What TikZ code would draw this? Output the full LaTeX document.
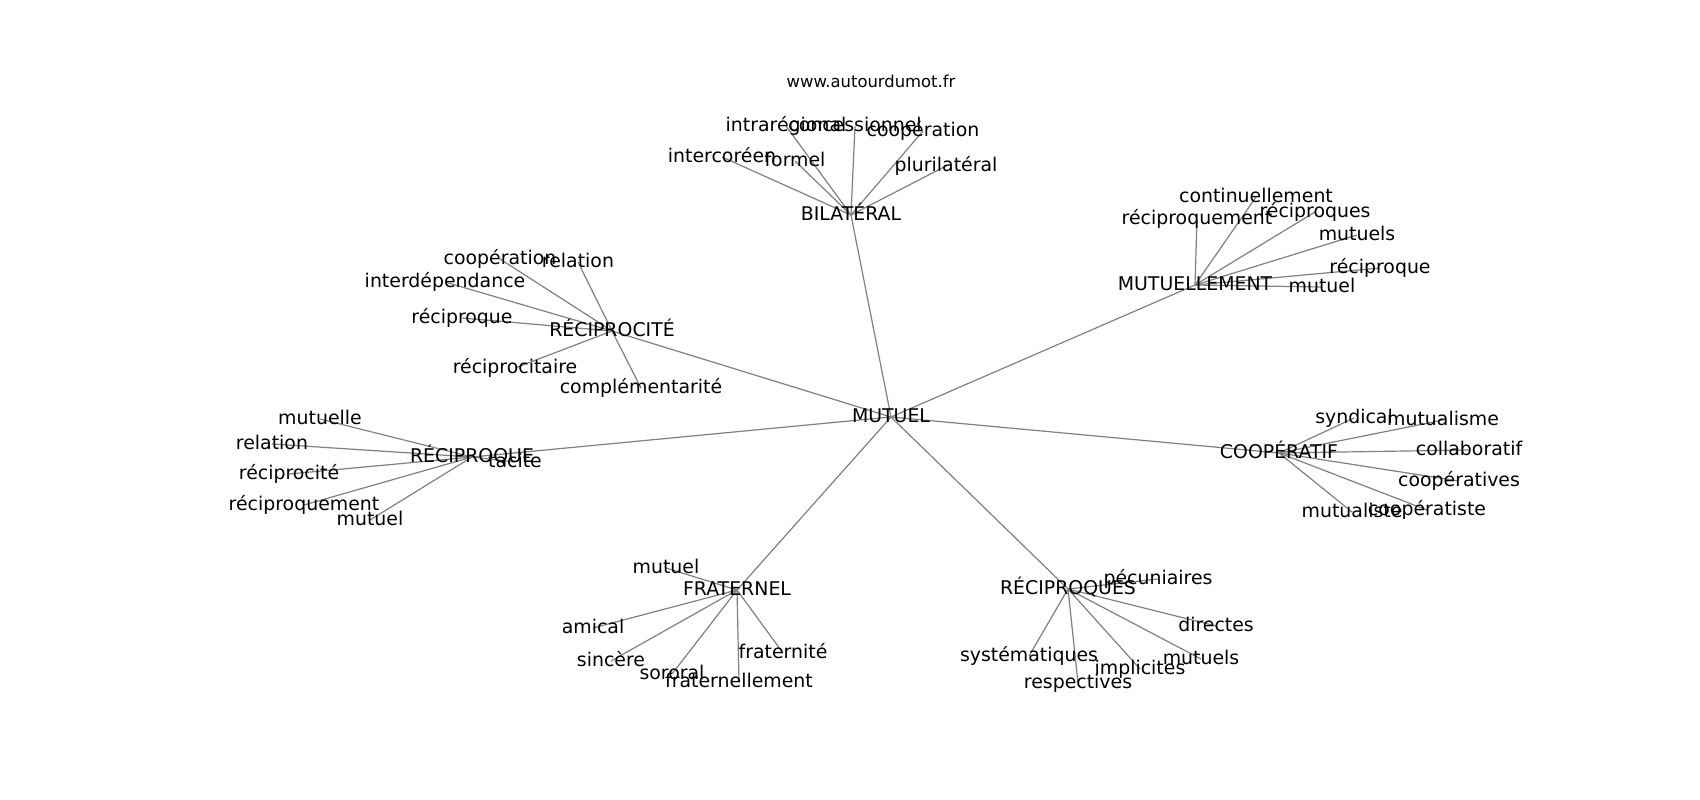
\documentclass[tikz,border=0pt]{standalone}
\usepackage{fontspec}
\setmainfont{DejaVu Sans}
\usetikzlibrary{backgrounds}
\begin{document}
\begin{tikzpicture}[x=1pt,y=-1pt,
  lbl/.style={font=\fontsize{18.9}{22}\selectfont, inner sep=0pt, text height=1.24em, text depth=0.21em, anchor=center},
  edge/.style={draw=gray, line width=1.2pt}]
\useasboundingbox (0,0) rectangle (1700,800);
\node[font=\fontsize{16.4}{19}\selectfont, inner sep=0pt, text height=1.24em, text depth=0.21em] (title) at (871,82) {www.autourdumot.fr};
% hubs
\node[lbl] (m) at (891,417) {MUTUEL};
\node[lbl] (bil) at (851,215) {BILATÉRAL};
\node[lbl] (mtl) at (1195,285) {MUTUELLEMENT};
\node[lbl] (rcp) at (612,331) {RÉCIPROCITÉ};
\node[lbl] (rq) at (472,457) {RÉCIPROQUE};
\node[lbl] (coop) at (1279,453) {COOPÉRATIF};
\node[lbl] (frat) at (737,590) {FRATERNEL};
\node[lbl] (rqs) at (1068,589) {RÉCIPROQUES};
% BILATERAL leaves
\node[lbl] (b1) at (722,157) {intercoréen};
\node[lbl] (b2) at (786,126) {intrarégional};
\node[lbl] (b3) at (855,126) {concessionnel};
\node[lbl] (b4) at (923,131) {coopération};
\node[lbl] (b5) at (795,161) {formel};
\node[lbl] (b6) at (946,166) {plurilatéral};
% MUTUELLEMENT leaves
\node[lbl] (u1) at (1256,197) {continuellement};
\node[lbl] (u2) at (1197,219) {réciproquement};
\node[lbl] (u3) at (1315,212) {réciproques};
\node[lbl] (u4) at (1357,235) {mutuels};
\node[lbl] (u5) at (1380,268) {réciproque};
\node[lbl] (u6) at (1322,287) {mutuel};
% RECIPROCITE leaves
\node[lbl] (c1) at (500,259) {coopération};
\node[lbl] (c2) at (578,262) {relation};
\node[lbl] (c3) at (445,282) {interdépendance};
\node[lbl] (c4) at (462,318) {réciproque};
\node[lbl] (c5) at (515,368) {réciprocitaire};
\node[lbl] (c6) at (641,388) {complémentarité};
% RECIPROQUE leaves
\node[lbl] (q1) at (320,419) {mutuelle};
\node[lbl] (q2) at (272,444) {relation};
\node[lbl] (q3) at (289,474) {réciprocité};
\node[lbl] (q4) at (304,505) {réciproquement};
\node[lbl] (q5) at (370,520) {mutuel};
\node[lbl] (q6) at (515,462) {tacite};
% COOPERATIF leaves
\node[lbl] (p1) at (1354,418) {syndical};
\node[lbl] (p2) at (1443,420) {mutualisme};
\node[lbl] (p3) at (1469,450) {collaboratif};
\node[lbl] (p4) at (1459,481) {coopératives};
\node[lbl] (p5) at (1427,510) {coopératiste};
\node[lbl] (p6) at (1352,512) {mutualiste};
% FRATERNEL leaves
\node[lbl] (f1) at (666,568) {mutuel};
\node[lbl] (f2) at (593,628) {amical};
\node[lbl] (f3) at (611,661) {sincère};
\node[lbl] (f4) at (672,674) {sororal};
\node[lbl] (f5) at (739,682) {fraternellement};
\node[lbl] (f6) at (783,653) {fraternité};
% RECIPROQUES leaves
\node[lbl] (s1) at (1158,579) {pécuniaires};
\node[lbl] (s2) at (1216,626) {directes};
\node[lbl] (s3) at (1201,659) {mutuels};
\node[lbl] (s4) at (1140,669) {implicites};
\node[lbl] (s5) at (1029,656) {systématiques};
\node[lbl] (s6) at (1078,683) {respectives};
\begin{pgfonlayer}{background}
\fill[white] (0,0) rectangle (1700,800);
\foreach \h in {bil,mtl,rcp,rq,coop,frat,rqs} \draw[edge] (m.center) -- (\h.center);
\foreach \l in {b1,b2,b3,b4,b5,b6} \draw[edge] (bil.center) -- (\l.center);
\foreach \l in {u1,u2,u3,u4,u5,u6} \draw[edge] (mtl.center) -- (\l.center);
\foreach \l in {c1,c2,c3,c4,c5,c6} \draw[edge] (rcp.center) -- (\l.center);
\foreach \l in {q1,q2,q3,q4,q5,q6} \draw[edge] (rq.center) -- (\l.center);
\foreach \l in {p1,p2,p3,p4,p5,p6} \draw[edge] (coop.center) -- (\l.center);
\foreach \l in {f1,f2,f3,f4,f5,f6} \draw[edge] (frat.center) -- (\l.center);
\foreach \l in {s1,s2,s3,s4,s5,s6} \draw[edge] (rqs.center) -- (\l.center);
\end{pgfonlayer}
\end{tikzpicture}
\end{document}
